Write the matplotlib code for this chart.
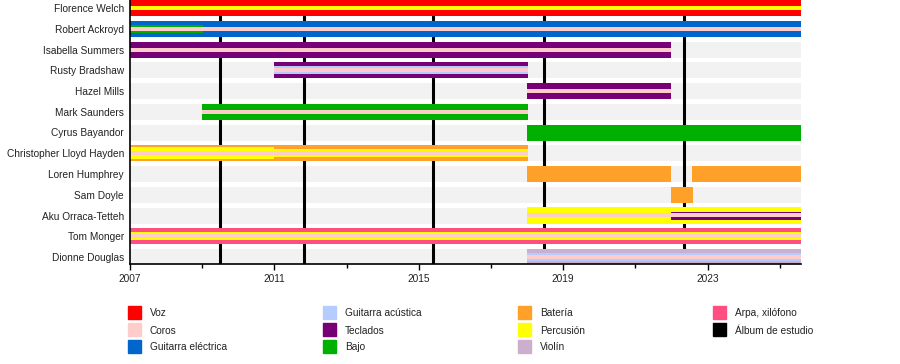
import matplotlib
matplotlib.use("Agg")
import matplotlib.pyplot as plt
from matplotlib.patches import Rectangle

plt.rcParams['font.family'] = ['Liberation Sans', 'DejaVu Sans']

# --- data ---
members = ["Florence Welch", "Robert Ackroyd", "Isabella Summers", "Rusty Bradshaw",
           "Hazel Mills", "Mark Saunders", "Cyrus Bayandor", "Christopher Lloyd Hayden",
           "Loren Humphrey", "Sam Doyle", "Aku Orraca-Tetteh", "Tom Monger", "Dionne Douglas"]

roles = ["Voz", "Coros", "Guitarra eléctrica", "Guitarra acústica", "Teclados", "Bajo",
         "Batería", "Percusión", "Violín", "Arpa, xilófono"]
role_colors = ["#ff0000", "#ffcccc", "#0066cc", "#b4ccff", "#770077", "#00b000",
               "#ffa028", "#ffff00", "#ccafcc", "#ff4f80"]

start_year = 2007
end_year = 2025.59

albums = [2009.49, 2011.83, 2015.40, 2018.48, 2022.35]

# one entry per bar: member, role, layer, start, end
bar_member = ["Florence Welch", "Florence Welch",
              "Robert Ackroyd", "Robert Ackroyd", "Robert Ackroyd",
              "Isabella Summers", "Isabella Summers",
              "Rusty Bradshaw", "Rusty Bradshaw", "Rusty Bradshaw",
              "Hazel Mills", "Hazel Mills",
              "Mark Saunders", "Mark Saunders",
              "Cyrus Bayandor",
              "Christopher Lloyd Hayden", "Christopher Lloyd Hayden",
              "Christopher Lloyd Hayden", "Christopher Lloyd Hayden",
              "Loren Humphrey", "Loren Humphrey",
              "Sam Doyle",
              "Aku Orraca-Tetteh", "Aku Orraca-Tetteh", "Aku Orraca-Tetteh",
              "Tom Monger", "Tom Monger", "Tom Monger",
              "Dionne Douglas", "Dionne Douglas", "Dionne Douglas"]
bar_role = ["Voz", "Percusión",
            "Guitarra eléctrica", "Bajo", "Coros",
            "Teclados", "Coros",
            "Teclados", "Guitarra acústica", "Coros",
            "Teclados", "Coros",
            "Bajo", "Coros",
            "Bajo",
            "Batería", "Percusión", "Percusión", "Coros",
            "Batería", "Batería",
            "Batería",
            "Percusión", "Teclados", "Coros",
            "Arpa, xilófono", "Percusión", "Coros",
            "Violín", "Guitarra acústica", "Coros"]
bar_layer = ["main", "inner",
             "main", "mid", "inner",
             "main", "inner",
             "main", "mid", "inner",
             "main", "inner",
             "main", "inner",
             "main",
             "main", "wide", "mid", "inner",
             "main", "main",
             "main",
             "main", "mid", "inner",
             "main", "mid", "inner",
             "main", "mid", "inner"]
bar_start = [2007, 2007,
             2007, 2007, 2007,
             2007, 2007,
             2011.0, 2011.0, 2011.0,
             2018.0, 2018.0,
             2009.0, 2009.0,
             2018.0,
             2007, 2007, 2011.0, 2007,
             2018.0, 2022.57,
             2021.98,
             2018.0, 2022.0, 2018.0,
             2007, 2007, 2007,
             2018.0, 2018.0, 2018.0]
bar_end = [end_year, end_year,
           end_year, 2009.02, end_year,
           2022.0, 2022.0,
           2018.02, 2018.02, 2018.02,
           2022.0, 2022.0,
           2018.02, 2018.02,
           end_year,
           2018.02, 2011.0, 2018.02, 2018.02,
           2022.0, end_year,
           2022.6,
           end_year, end_year, end_year,
           end_year, end_year, end_year,
           end_year, end_year, end_year]

# --- layout (pixels) ---
W, H = 900, 364
ax_left, ax_right, ax_top, ax_bottom = 130, 801, 0, 264
row_px = 20.75
first_center_px = 8
layer_px = {"main": 16, "wide": 12, "mid": 8, "inner": 4}
layer_order = {"main": 2, "wide": 3, "mid": 4, "inner": 5}

fig = plt.figure(figsize=(W / 100, H / 100), dpi=100)
ax = fig.add_axes([ax_left / W, 1 - ax_bottom / H, (ax_right - ax_left) / W, (ax_bottom - ax_top) / H])

n_rows_visible = (ax_bottom - ax_top) / row_px
y_top = -first_center_px / row_px
ax.set_ylim(y_top + n_rows_visible, y_top)
ax.set_xlim(start_year, end_year)

row_of = {m: i for i, m in enumerate(members)}
color_of = dict(zip(roles, role_colors))

# gray row backgrounds
ax.barh(range(len(members)), end_year - start_year, left=start_year,
        height=16 / row_px, color="#f2f2f2", zorder=0)

# album lines
ax.vlines(albums, y_top + n_rows_visible, y_top, color="black", lw=2.2, zorder=1)

for m, r, lay, s, e in zip(bar_member, bar_role, bar_layer, bar_start, bar_end):
    ax.barh(row_of[m], e - s, left=s, height=layer_px[lay] / row_px,
            color=color_of[r], zorder=layer_order[lay], linewidth=0)

ax.set_yticks(range(len(members)))
ax.set_yticklabels(members, fontsize=7.3, color="#222222")
ax.tick_params(axis="y", length=0, pad=4.3)

ax.set_xticks([2007, 2011, 2015, 2019, 2023])
ax.set_xticks([2009, 2013, 2017, 2021, 2025], minor=True)
ax.tick_params(axis="x", which="major", length=4, width=1, labelsize=7.3, labelcolor="#222222", pad=3)
ax.tick_params(axis="x", which="minor", length=3, width=1)

for side in ["top", "right"]:
    ax.spines[side].set_visible(False)
for side in ["left", "bottom"]:
    ax.spines[side].set_linewidth(1.2)
    ax.spines[side].set_zorder(10)

# legend
legend_labels = roles + ["Álbum de estudio"]
legend_colors = role_colors + ["#000000"]
col_x = [128, 323, 518, 713]
row_y = [312.5, 329.5, 346.5]
for k, (lab, col) in enumerate(zip(legend_labels, legend_colors)):
    c, rr = divmod(k, 3)
    x0 = col_x[c]
    yc = row_y[rr]
    fig.patches.append(Rectangle((x0 / W, 1 - (yc + 6.5) / H), 13 / W, 13 / H,
                                 transform=fig.transFigure, color=col, figure=fig))
    fig.text((x0 + 22) / W, 1 - (yc + 1) / H, lab, fontsize=7.3, color="#222222",
             va="center", ha="left")

fig.savefig("out.png", dpi=100)
